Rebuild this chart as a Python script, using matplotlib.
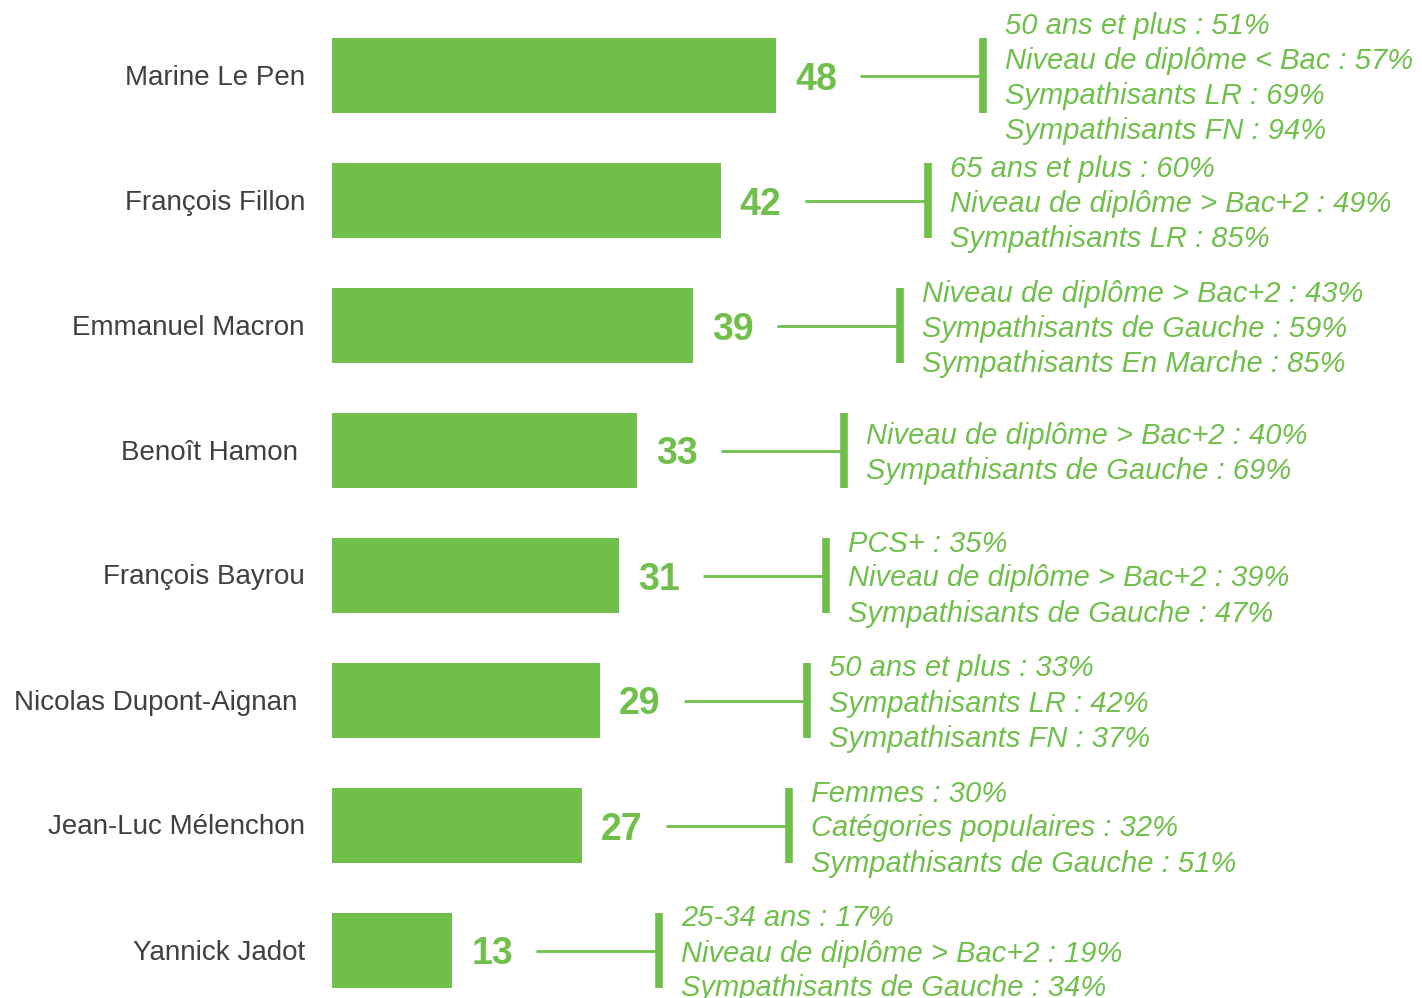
import matplotlib.pyplot as plt

candidats = ["Marine Le Pen", "François Fillon", "Emmanuel Macron", "Benoît Hamon",
             "François Bayrou", "Nicolas Dupont-Aignan", "Jean-Luc Mélenchon", "Yannick Jadot"]
scores = [48, 42, 39, 33, 31, 29, 27, 13]
details = [
    ["50 ans et plus : 51%", "Niveau de diplôme < Bac : 57%", "Sympathisants LR : 69%", "Sympathisants FN : 94%"],
    ["65 ans et plus : 60%", "Niveau de diplôme > Bac+2 : 49%", "Sympathisants LR : 85%"],
    ["Niveau de diplôme > Bac+2 : 43%", "Sympathisants de Gauche : 59%", "Sympathisants En Marche : 85%"],
    ["Niveau de diplôme > Bac+2 : 40%", "Sympathisants de Gauche : 69%"],
    ["PCS+ : 35%", "Niveau de diplôme > Bac+2 : 39%", "Sympathisants de Gauche : 47%"],
    ["50 ans et plus : 33%", "Sympathisants LR : 42%", "Sympathisants FN : 37%"],
    ["Femmes : 30%", "Catégories populaires : 32%", "Sympathisants de Gauche : 51%"],
    ["25-34 ans : 17%", "Niveau de diplôme > Bac+2 : 19%", "Sympathisants de Gauche : 34%"],
]

GREEN = "#70bf4b"
GREY = "#404040"
plt.rcParams['font.family'] = ['Liberation Sans', 'DejaVu Sans']

W, H = 1422, 998
fig = plt.figure(figsize=(W / 100, H / 100), dpi=100)
# axes starts where the bars start (x=332 px), 9.25 px per point
ax = fig.add_axes([332 / W, 0, (W - 332) / W, 1])
px = 9.25
ax.set_xlim(0, (W - 332) / px)
row = 125.0
ax.set_ylim((H - 75.5) / row, -75.5 / row)

y = list(range(len(candidats)))
ax.barh(y, scores, height=0.6, color=GREEN)

# a couple of names sit a little further left in the original
name_shift = [0, 0, 0, 7, 0, 8, 0, 0]

for i, (s, lines) in enumerate(zip(scores, details)):
    ax.text(-(27 + name_shift[i]) / px, i + 2 / row, candidats[i], color=GREY, fontsize=20,
            ha='right', va='center', clip_on=False)
    ax.text(s + 19 / px, i, str(s), color=GREEN, fontsize=27, fontweight='bold',
            ha='left', va='center_baseline')
    ax.plot([s + 84 / px, s + 207 / px], [i, i], color=GREEN, lw=2, solid_capstyle='butt')
    ax.plot([s + 207 / px, s + 207 / px], [i - 0.3, i + 0.3], color=GREEN, lw=5.5,
            solid_capstyle='butt')
    n = len(lines)
    for k, t in enumerate(lines):
        yy = i + (k - (n - 1) / 2) * 35 / row
        ax.text(s + 229 / px, yy, t, color=GREEN, fontsize=21, style='italic',
                ha='left', va='center_baseline', clip_on=False)

ax.set_xticks([])
ax.set_yticks([])
for sp in ax.spines.values():
    sp.set_visible(False)

fig.savefig("out.png", dpi=100)
